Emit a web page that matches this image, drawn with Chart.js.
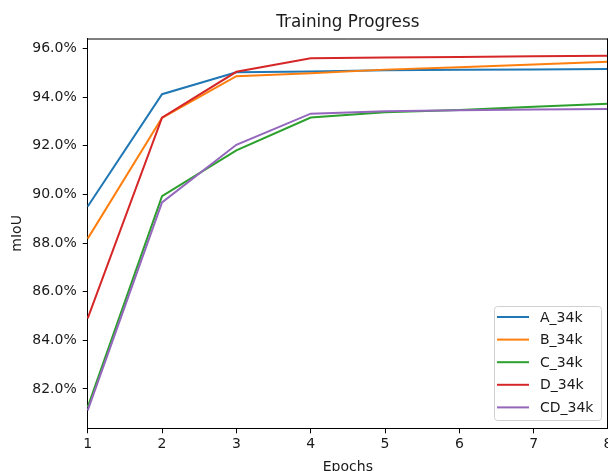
<!DOCTYPE html>
<html>
<head>
<meta charset="utf-8">
<script src="https://cdn.jsdelivr.net/npm/chart.js@4.4.1/dist/chart.umd.min.js"></script>
<style>
  html, body { margin: 0; padding: 0; background: #fff; }
  #wrap { width: 608px; height: 471px; }
</style>
</head>
<body>
<div id="wrap"><canvas id="c" width="608" height="471"></canvas></div>
<script>
// --- DATA ---
const epochs = ['1', '2', '3', '4', '5', '6', '7', '8'];
const seriesNames = ['A_34k', 'B_34k', 'C_34k', 'D_34k', 'CD_34k'];
const seriesA  = [89.50, 94.12, 95.02, 95.05, 95.10, 95.12, 95.14, 95.16];
const seriesB  = [88.18, 93.15, 94.86, 94.98, 95.13, 95.23, 95.34, 95.45];
const seriesC  = [81.25, 89.93, 91.81, 93.16, 93.38, 93.47, 93.60, 93.73];
const seriesD  = [84.90, 93.15, 95.04, 95.60, 95.63, 95.65, 95.68, 95.70];
const seriesCD = [81.12, 89.67, 92.04, 93.32, 93.42, 93.46, 93.49, 93.51];
const yTickStep = 2;
const yMin = 80.38, yMax = 96.41;
const chartTitle = 'Training Progress';

const colors = ['#1f77b4', '#ff7f0e', '#2ca02c', '#d62728', '#9467bd'];
const allSeries = [seriesA, seriesB, seriesC, seriesD, seriesCD];
const FONT = "'DejaVu Sans', sans-serif";
const TXT = '#1a1a1a';
const FS = 14;

// matplotlib-like frame (top + right spines) and title centred over the axes
const framePlugin = {
  id: 'frame',
  afterDatasetsDraw(chart) {
    const { ctx, chartArea: a } = chart;
    ctx.save();
    ctx.strokeStyle = '#000';
    ctx.lineWidth = 1;
    ctx.beginPath();
    ctx.moveTo(a.left, a.top + 0.5);
    ctx.lineTo(a.right, a.top + 0.5);
    ctx.moveTo(a.right - 0.5, a.top);
    ctx.lineTo(a.right - 0.5, a.bottom);
    ctx.stroke();
    ctx.font = '16.8px ' + FONT;
    ctx.fillStyle = TXT;
    ctx.textAlign = 'center';
    ctx.textBaseline = 'middle';
    ctx.fillText(chartTitle, (a.left + a.right) / 2, 23);
    ctx.restore();
  }
};

// legend box in lower right, like matplotlib "best"
const legendPlugin = {
  id: 'mplLegend',
  afterDraw(chart) {
    const { ctx } = chart;
    const x = 494.5, y = 306.5, w = 107, h = 114, r = 3;
    ctx.save();
    ctx.fillStyle = 'rgba(255,255,255,0.8)';
    ctx.strokeStyle = '#d0d0d0';
    ctx.lineWidth = 1;
    ctx.beginPath();
    ctx.roundRect(x, y, w, h, r);
    ctx.fill();
    ctx.stroke();
    ctx.font = FS + 'px ' + FONT;
    ctx.textBaseline = 'middle';
    ctx.fillStyle = TXT;
    chart.data.datasets.forEach((ds, i) => {
      const ly = 317 + i * 22.6;
      ctx.strokeStyle = ds.borderColor;
      ctx.lineWidth = 2;
      ctx.beginPath();
      ctx.moveTo(497, ly);
      ctx.lineTo(529, ly);
      ctx.stroke();
      ctx.fillText(ds.label, 540, ly + 1);
    });
    ctx.restore();
  }
};

new Chart(document.getElementById('c'), {
  type: 'line',
  data: {
    labels: epochs,
    datasets: seriesNames.map((name, i) => ({
      label: name,
      data: allSeries[i],
      borderColor: colors[i],
      backgroundColor: colors[i],
      borderWidth: 2,
      pointRadius: 0,
      tension: 0,
      order: seriesNames.length - i
    }))
  },
  options: {
    responsive: false,
    animation: false,
    layout: { padding: { top: 38.5, left: 0, right: 0, bottom: 0 } },
    plugins: {
      legend: { display: false },
      tooltip: { enabled: false },
      title: { display: false }
    },
    scales: {
      x: {
        type: 'category',
        offset: false,
        grid: { drawOnChartArea: false, drawTicks: true, tickLength: 5, color: '#000' },
        border: { display: true, color: '#000', width: 1 },
        ticks: { color: TXT, font: { family: FONT, size: FS }, padding: 3, maxRotation: 0, autoSkip: false },
        title: {
          display: true, text: 'Epochs', color: TXT,
          font: { family: FONT, size: FS, lineHeight: 1 },
          padding: { top: 0, bottom: -3 }
        },
        afterFit(scale) { scale.height = 471 - 428.3; scale.paddingLeft = 0; scale.paddingRight = 0; }
      },
      y: {
        type: 'linear',
        min: yMin,
        max: yMax,
        grid: { drawOnChartArea: false, drawTicks: true, tickLength: 5, color: '#000' },
        border: { display: true, color: '#000', width: 1 },
        ticks: {
          stepSize: yTickStep,
          includeBounds: false,
          color: TXT,
          font: { family: FONT, size: FS },
          padding: 6,
          callback: v => v.toFixed(1) + '%'
        },
        title: {
          display: true, text: 'mIoU', color: TXT,
          font: { family: FONT, size: FS, lineHeight: 1 },
          padding: { top: 10, bottom: 0 }
        },
        afterFit(scale) { scale.width = 87.7; scale.paddingTop = 0; scale.paddingBottom = 0; }
      }
    }
  },
  plugins: [framePlugin, legendPlugin]
});
</script>
</body>
</html>
